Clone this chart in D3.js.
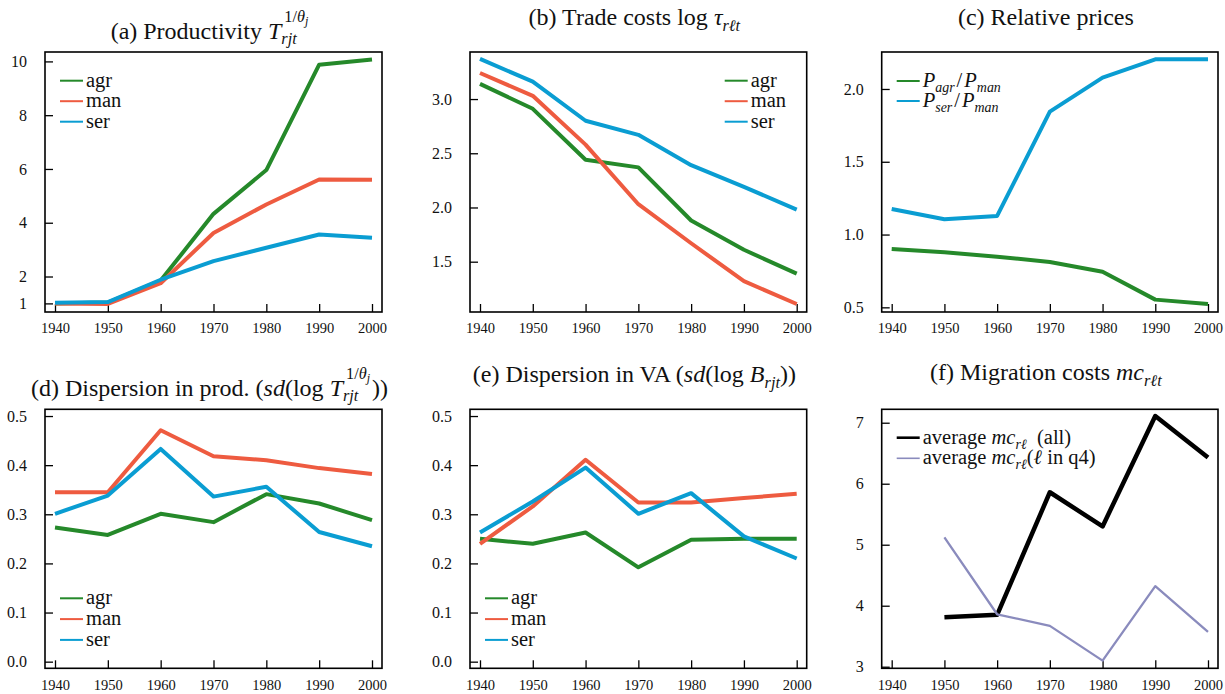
<!DOCTYPE html>
<html>
<head>
<meta charset="utf-8">
<script src="https://cdn.jsdelivr.net/npm/d3@7"></script>
<style>
  body { margin: 0; background: #fff; }
  svg { display: block; }
  svg text { font-family: "Liberation Serif", "Times New Roman", "DejaVu Serif", serif; fill: #111; }
</style>
</head>
<body>
<div id="chart"></div>
<script>
// data
const years = [1940, 1950, 1960, 1970, 1980, 1990, 2000];

const prodAgr = [1.0, 1.03, 1.85, 4.33, 5.96, 9.88, 10.07];
const prodMan = [1.0, 0.98, 1.75, 3.62, 4.68, 5.61, 5.60];
const prodSer = [1.02, 1.05, 1.88, 2.57, 3.07, 3.56, 3.44];

const tradeAgr = [3.14, 2.91, 2.44, 2.37, 1.88, 1.61, 1.39];
const tradeMan = [3.24, 3.03, 2.58, 2.03, 1.67, 1.32, 1.11];
const tradeSer = [3.37, 3.16, 2.80, 2.67, 2.39, 2.19, 1.98];

const priceAgr = [0.90, 0.878, 0.848, 0.812, 0.745, 0.553, 0.523];
const priceSer = [1.176, 1.105, 1.128, 1.844, 2.078, 2.204, 2.205];

const dispProdAgr = [0.273, 0.258, 0.301, 0.284, 0.341, 0.322, 0.288];
const dispProdMan = [0.345, 0.345, 0.471, 0.418, 0.410, 0.394, 0.382];
const dispProdSer = [0.301, 0.338, 0.433, 0.336, 0.356, 0.264, 0.235];

const dispVaAgr = [0.250, 0.240, 0.263, 0.192, 0.248, 0.250, 0.250];
const dispVaMan = [0.240, 0.316, 0.411, 0.324, 0.324, 0.333, 0.342];
const dispVaSer = [0.263, 0.326, 0.395, 0.301, 0.343, 0.255, 0.210];

const migAll = [null, 3.81, 3.85, 5.86, 5.30, 7.11, 6.43];
const migQ4 = [null, 5.12, 3.86, 3.67, 3.10, 4.32, 3.57];

const ticksProd = [1, 2, 4, 6, 8, 10];
const ticksTrade = [1.5, 2.0, 2.5, 3.0];
const ticksPrice = [0.5, 1.0, 1.5, 2.0];
const ticksDisp = [0.0, 0.1, 0.2, 0.3, 0.4, 0.5];
const ticksMig = [3, 4, 5, 6, 7];

const cAgr = "#25892a", cMan = "#ee5b40", cSer = "#0a9dd2";
const cAll = "#000000", cQ4 = "#8a8bbd";

const FONT = "'Liberation Serif', 'Times New Roman', 'DejaVu Serif', serif";
const W = 1225, H = 694;
const svg = d3.select("#chart").append("svg").attr("width", W).attr("height", H);

// draw a line of text made of pieces (italic, sub/superscripts)
// sh = shift up in units of base size, sc = size factor
function richText(parent, tokens, x, y, size, anchor) {
  const g = parent.append("g");
  let cx = 0, mark = 0, maxX = 0, stacked = false;
  tokens.forEach(function (t) {
    if (t.back) { cx = mark; stacked = true; }
    else if (stacked) { cx = maxX; stacked = false; }
    if (t.mark) mark = cx;
    const fs = size * (t.sc || 1);
    const el = g.append("text")
      .attr("x", cx + (t.dx || 0))
      .attr("y", -(t.sh || 0) * size)
      .attr("font-size", fs)
      .attr("font-family", FONT)
      .attr("font-style", t.it ? "italic" : "normal")
      .style("white-space", "pre")
      .text(t.s);
    cx += el.node().getComputedTextLength() + (t.dx || 0);
    maxX = Math.max(maxX, cx);
  });
  const off = anchor === "middle" ? -maxX / 2 : 0;
  g.attr("transform", "translate(" + (x + off) + "," + y + ")");
  return g;
}

function panel(cfg) {
  const L = cfg.box[0], R = cfg.box[1], T = cfg.box[2], B = cfg.box[3];
  const x = d3.scaleLinear().domain([1940, 2000]).range([L + 10, R - 10]);
  const y = d3.scaleLinear().domain(cfg.yDomain).range([B, T]);
  const g = svg.append("g");

  const yAxis = d3.axisLeft(y).tickValues(cfg.ticks).tickSize(-8).tickSizeOuter(0)
    .tickPadding(18).tickFormat(d3.format(cfg.fmt));
  const ga = g.append("g").attr("transform", "translate(" + L + ",0)").call(yAxis)
    .attr("font-family", FONT);
  ga.select(".domain").remove();
  ga.selectAll("text").attr("font-size", 16);
  ga.selectAll("line").attr("stroke", "#000").attr("stroke-width", 1.3);

  const xAxis = d3.axisBottom(x).tickValues(years).tickSize(-8).tickSizeOuter(0)
    .tickPadding(11).tickFormat(d3.format("d"));
  const gx = g.append("g").attr("transform", "translate(0," + B + ")").call(xAxis)
    .attr("font-family", FONT);
  gx.select(".domain").remove();
  gx.selectAll("text").attr("font-size", 14.5);
  gx.selectAll("line").attr("stroke", "#000").attr("stroke-width", 1.3);

  const line = d3.line()
    .defined(function (d) { return d[1] !== null; })
    .x(function (d) { return x(d[0]); })
    .y(function (d) { return y(d[1]); });

  cfg.series.forEach(function (s) {
    g.append("path")
      .datum(years.map(function (yr, i) { return [yr, s.values[i]]; }))
      .attr("fill", "none")
      .attr("stroke", s.color)
      .attr("stroke-width", s.width || 4)
      .attr("stroke-linejoin", "round")
      .attr("d", line);
  });

  g.append("rect")
    .attr("x", L).attr("y", T).attr("width", R - L).attr("height", B - T)
    .attr("fill", "none").attr("stroke", "#000").attr("stroke-width", 1.6);

  // legend
  const lx = cfg.legendX === "right" ? R - 82 : L + 15;
  cfg.series.forEach(function (s, i) {
    const ly = T + cfg.legendY + i * cfg.legendGap;
    g.append("line")
      .attr("x1", lx).attr("x2", lx + 23).attr("y1", ly).attr("y2", ly)
      .attr("stroke", s.color).attr("stroke-width", s.legendWidth || 2);
    richText(g, s.label, lx + 26, ly + 6, 20.5, "start");
  });

  richText(g, cfg.title, (L + R) / 2 - 4, cfg.titleY, 24, "middle");
}

function plain(str) { return [{ s: str }]; }

const sectorSeries = function (a, m, s) {
  return [
    { values: a, color: cAgr, label: plain("agr") },
    { values: m, color: cMan, label: plain("man") },
    { values: s, color: cSer, label: plain("ser") }
  ];
};

const supT = [
  { s: "T", it: 1 },
  { s: "1/", sc: 0.68, sh: 0.72, mark: 1, dx: 3 },
  { s: "θ", it: 1, sc: 0.68, sh: 0.72 },
  { s: "j", it: 1, sc: 0.5, sh: 0.6 },
  { s: "rjt", it: 1, sc: 0.68, sh: -0.22, back: 1 }
];

const ratioLabel = function (num) {
  return [{ s: "P", it: 1 }, { s: num, it: 1, sc: 0.68, sh: -0.25 }, { s: "/", dx: 2 },
          { s: "P", it: 1, dx: 2 }, { s: "man", it: 1, sc: 0.68, sh: -0.25 }];
};

panel({
  box: [45, 382, 52, 312], yDomain: [0.68, 10.35], ticks: ticksProd, fmt: "d",
  series: sectorSeries(prodAgr, prodMan, prodSer),
  legendX: "left", legendY: 28.7, legendGap: 20.5,
  title: [{ s: "(a) Productivity " }].concat(supT), titleY: 39
});

panel({
  box: [470, 806.7, 52, 312], yDomain: [1.036, 3.434], ticks: ticksTrade, fmt: ".1f",
  series: sectorSeries(tradeAgr, tradeMan, tradeSer),
  legendX: "right", legendY: 28.7, legendGap: 20.5,
  title: [{ s: "(b) Trade costs log " }, { s: "τ", it: 1 }, { s: "rℓt", it: 1, sc: 0.68, sh: -0.25 }],
  titleY: 25
});

panel({
  box: [881.7, 1218, 52, 312], yDomain: [0.468, 2.254], ticks: ticksPrice, fmt: ".1f",
  series: [
    { values: priceAgr, color: cAgr, label: ratioLabel("agr") },
    { values: priceSer, color: cSer, label: ratioLabel("ser") }
  ],
  legendX: "left", legendY: 29, legendGap: 20,
  title: plain("(c) Relative prices"), titleY: 25
});

panel({
  box: [45, 382, 409.3, 668.3], yDomain: [-0.0135, 0.5137], ticks: ticksDisp, fmt: ".1f",
  series: sectorSeries(dispProdAgr, dispProdMan, dispProdSer),
  legendX: "left", legendY: 189, legendGap: 20.8,
  title: [{ s: "(d) Dispersion in prod. (" }, { s: "sd", it: 1 }, { s: "(log " }].concat(supT).concat([{ s: "))", dx: 2 }]),
  titleY: 396
});

panel({
  box: [470, 806.7, 409.3, 668.3], yDomain: [-0.0135, 0.5137], ticks: ticksDisp, fmt: ".1f",
  series: sectorSeries(dispVaAgr, dispVaMan, dispVaSer),
  legendX: "left", legendY: 189, legendGap: 20.8,
  title: [{ s: "(e) Dispersion in VA (" }, { s: "sd", it: 1 }, { s: "(log " }, { s: "B", it: 1 },
          { s: "rjt", it: 1, sc: 0.68, sh: -0.25 }, { s: "))" }],
  titleY: 382
});

panel({
  box: [881.7, 1218, 409.3, 668.3], yDomain: [2.974, 7.22], ticks: ticksMig, fmt: "d",
  series: [
    { values: migAll, color: cAll, width: 4.5, legendWidth: 2.6,
      label: [{ s: "average " }, { s: "mc", it: 1 }, { s: "rℓ", it: 1, sc: 0.68, sh: -0.25 }, { s: "  (all)" }] },
    { values: migQ4, color: cQ4, width: 2.3, legendWidth: 1.6,
      label: [{ s: "average " }, { s: "mc", it: 1 }, { s: "rℓ", it: 1, sc: 0.68, sh: -0.25 }, { s: "(" }, { s: "ℓ", it: 1 }, { s: " in q4)" }] }
  ],
  legendX: "left", legendY: 28.4, legendGap: 20.6,
  title: [{ s: "(f) Migration costs " }, { s: "mc", it: 1 }, { s: "rℓt", it: 1, sc: 0.68, sh: -0.25 }],
  titleY: 380
});
</script>
</body>
</html>
